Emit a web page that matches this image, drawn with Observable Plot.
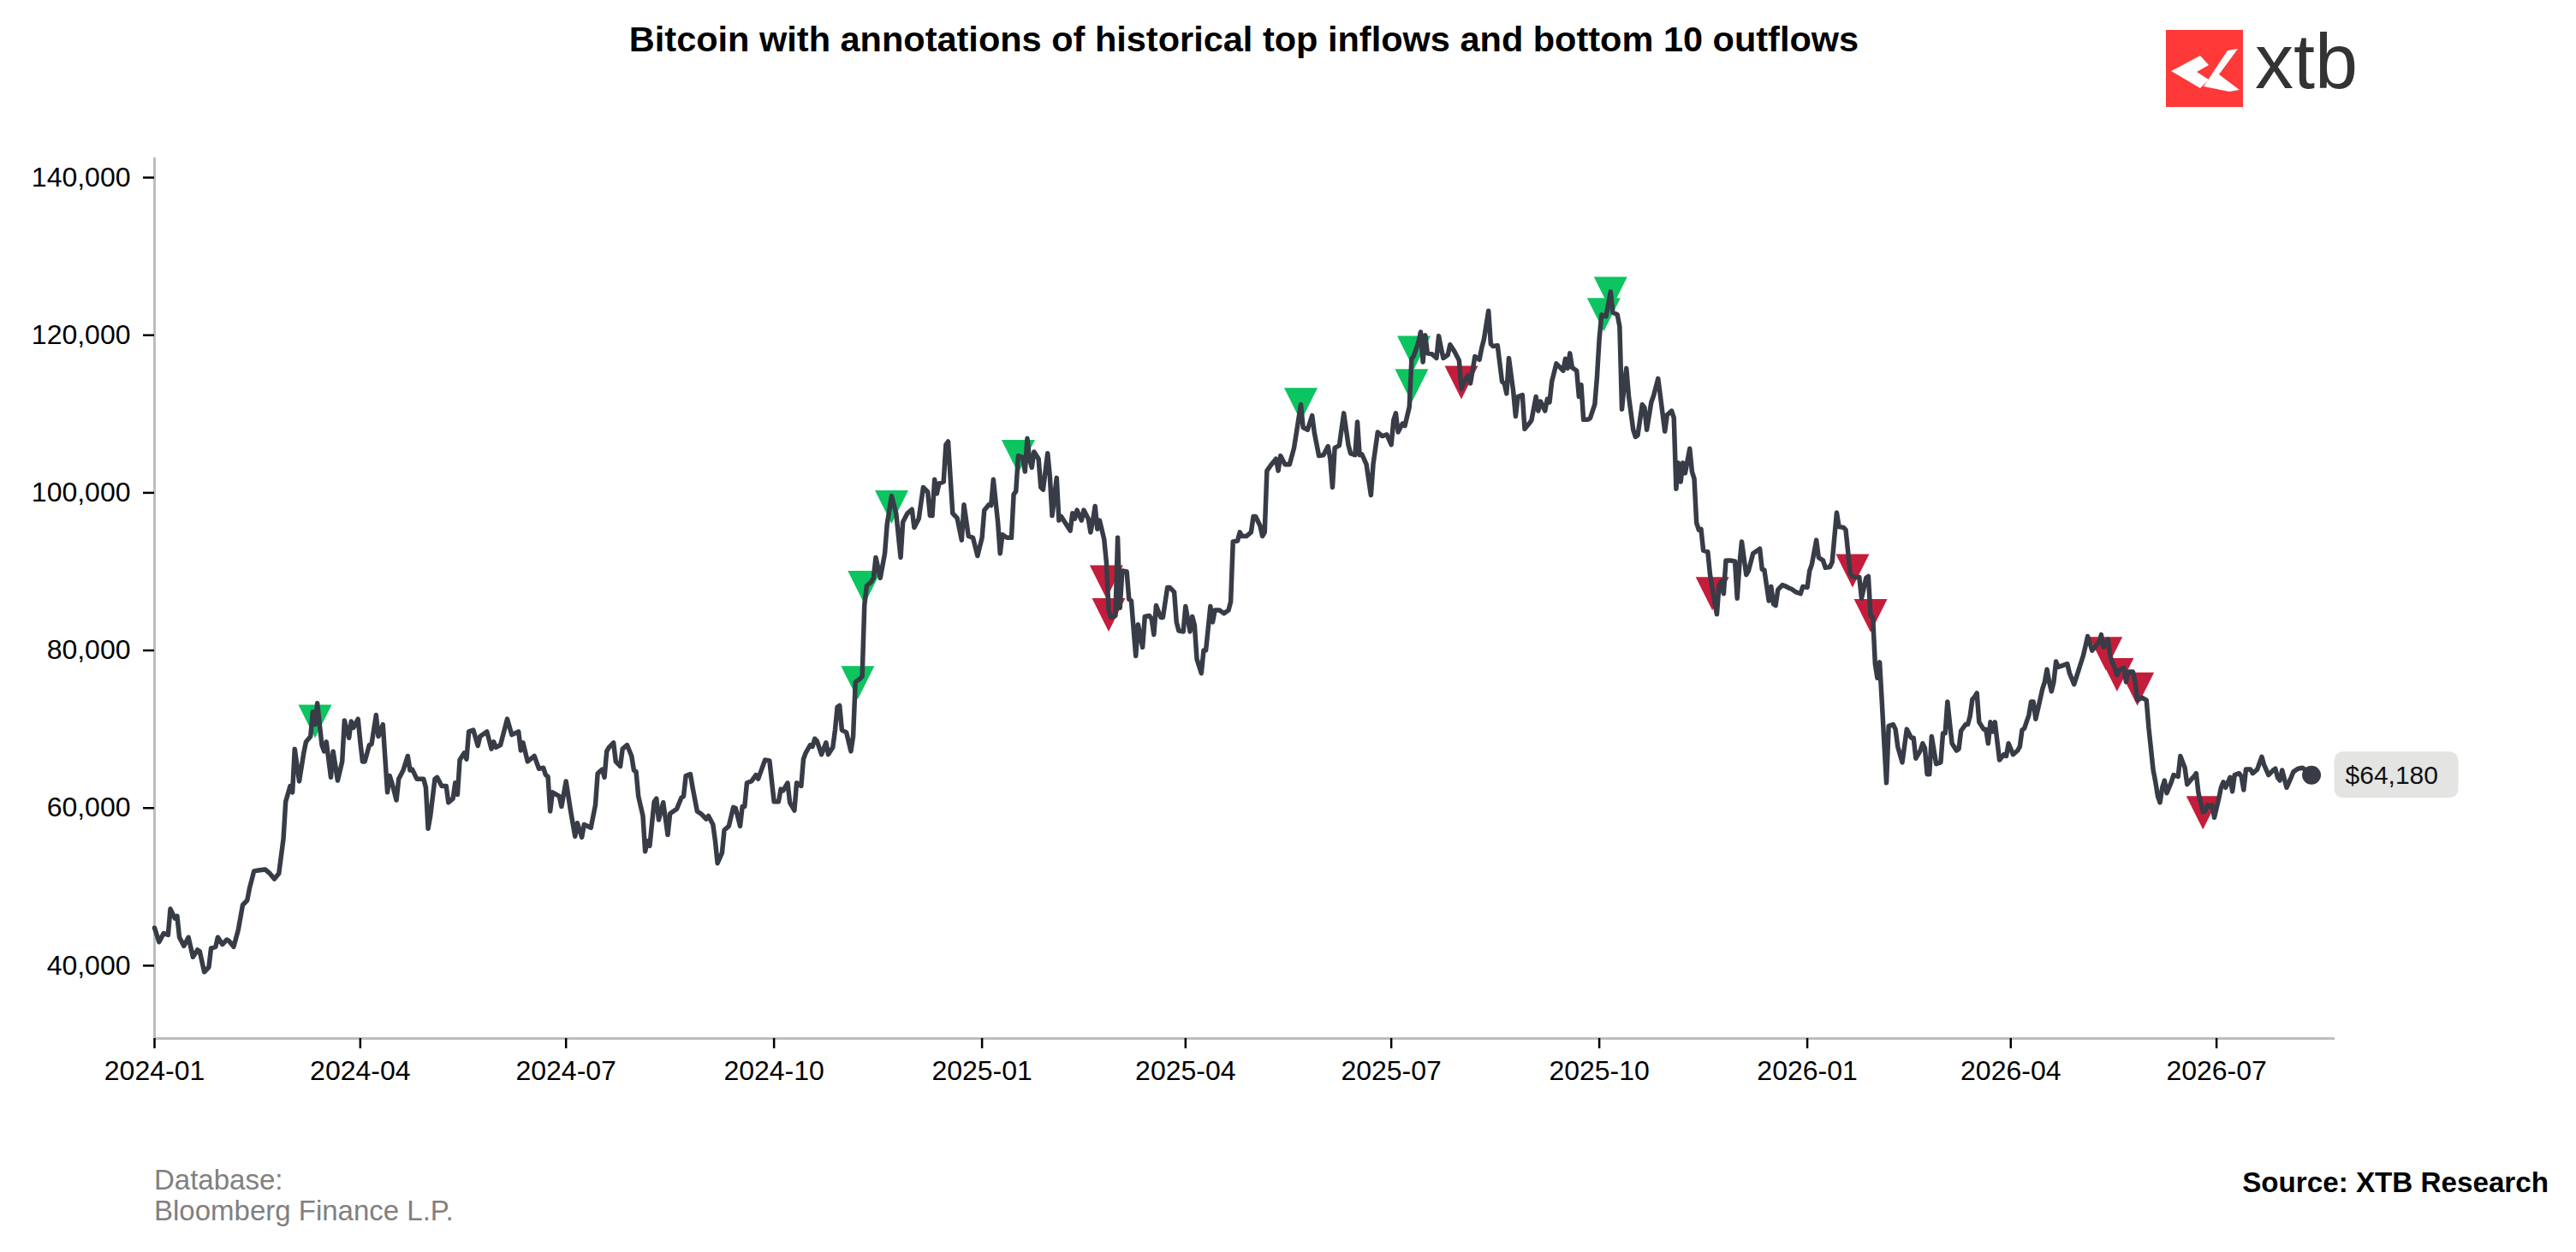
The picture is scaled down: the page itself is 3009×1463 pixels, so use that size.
<!DOCTYPE html>
<html>
<head>
<meta charset="utf-8">
<script src="https://cdn.jsdelivr.net/npm/d3@7"></script>
<script src="https://cdn.jsdelivr.net/npm/@observablehq/plot@0.6"></script>
<style>
  html, body { margin: 0; padding: 0; background: #fff; }
  #page { position: relative; width: 3009px; height: 1463px; overflow: hidden; font-family: "Liberation Sans", Arial, sans-serif; color: #000; }
  #chart { position: absolute; left: 0; top: 0; }
  .abs { position: absolute; white-space: nowrap; }
</style>
</head>
<body>
<div id="page">
  <div id="chart"></div>
  <div class="abs" id="title" style="left:1453px; top:25px; font-size:41.5px; line-height:41.5px; font-weight:bold; transform:translateX(-50%);">Bitcoin with annotations of historical top inflows and bottom 10 outflows</div>
  <svg class="abs" style="left:2530px; top:35px;" width="90" height="90" viewBox="0 0 90 90">
    <rect width="90" height="90" fill="#ff3838"/>
    <path d="M6,48 L40,30 L50,41 L36,49 L50,58 L40,68 Z" fill="#fff"/>
    <path d="M44,66 L72,24 L84,22 L62,52 L86,70 L74,72 Z" fill="#fff"/>
  </svg>
  <div class="abs" style="left:2634px; top:27px; font-size:90px; line-height:90px; color:#333;">xtb</div>
  <div class="abs" style="left:180px; top:1361px; font-size:33px; line-height:36px; color:#808080;">Database:<br>Bloomberg Finance L.P.</div>
  <div class="abs" style="right:32px; top:1365px; font-size:33.2px; line-height:33.2px; font-weight:bold;">Source: XTB Research</div>
</div>
<script>
// ---- Data. Day = days since 2024-01-01, price in USD thousands ----
const daysA = [0,2,4,6,7,9,10,11,13,15,17,19,20,22,24,25,27,28,30,32,33,35,37,39,41,42,44,46,49,51,53,55,57,58,60,61,62,64,66,67,69,70,71,72,74,75,76,78,79,81,83,84,86,87,88,90,91,92,93,95,96,98,99,101,103,104,105,107,108,110,112,113,114,116,119,120,121,122,124,125,127,129,130,132,133,134,135,137,138,139,141,143,144,147,149,150,151,153,156,158,161,162];
const priceA = [44.8,43.0,44.1,43.9,47.2,46.0,46.3,43.6,42.5,43.6,41.1,42.0,41.8,39.2,39.8,42.2,42.4,43.6,42.7,43.3,43.1,42.4,44.5,47.7,48.3,49.8,52.0,52.1,52.2,51.7,51.0,51.7,56.1,60.8,62.8,62.0,67.5,63.4,67.0,68.4,69.1,72.2,70.6,73.3,68.0,67.2,68.4,63.9,67.2,63.5,65.9,71.1,68.9,71.0,70.2,71.3,68.4,65.9,65.9,68.0,68.1,71.8,69.1,70.6,62.0,64.1,63.2,61.0,63.7,64.8,66.6,64.8,64.9,63.7,63.7,62.6,57.4,59.0,63.7,63.9,62.8,62.8,60.7,61.2,63.2,61.7,66.1,67.0,66.2,69.7,69.9,67.9,69.1,69.7,67.5,68.4,67.7,68.0,71.3,69.3,69.7,67.3];

const daysB = [163,165,168,170,172,173,174,175,176,179,180,182,184,186,187,189,190,193,195,196,198,199,200,201,203,204,206,207,209,211,212,213,214,216,217,218,219,221,222,223,225,227,228,231,233,234,235,237,238,240,242,244,245,247,248,249,251,252,254,256,257,259,260,261,262,264,266,267,270,272,273,274,276,277,278,280,281,283,284,286,287,288,290,291,292,293,295,297,298,300,301,302,303,304,306,308,309,310,312,313,314,315,317,318,319];
const priceB = [68.3,65.9,66.6,65.0,65.1,64.2,64.0,59.6,62.0,61.5,60.2,63.4,59.7,56.4,58.1,56.3,57.9,57.5,60.4,64.4,64.9,63.9,67.2,67.7,68.3,65.9,65.3,67.5,68.0,66.6,64.8,64.6,61.5,59.0,54.5,55.8,55.2,60.8,61.2,58.5,60.7,56.6,59.3,59.9,61.3,61.5,64.1,64.3,62.6,59.6,59.2,58.6,59.0,57.9,55.8,53.0,54.3,57.2,57.7,60.1,60.0,57.7,60.2,60.2,63.2,63.4,64.2,63.7,66.1,66.0,63.4,60.8,60.8,62.4,62.2,63.2,60.7,59.7,63.2,62.8,66.2,67.0,68.0,67.8,68.8,68.5,66.8,68.3,66.8,67.7,69.9,72.8,73.0,69.9,69.6,67.2,69.1,76.0,76.4,76.7,85.8,88.2,88.7,89.2,91.8];

const daysC = [321,323,324,326,328,330,331,333,335,336,338,340,342,343,344,345,346,347,349,350,351,353,355,357,358,360,362,364,366,367,369,370,371,373,374,375,377,379,380,381,382,384,385,386,387,388,389,391,392,393,395,396,397,399,400,401,403,405,406,407,408,410,411,413,414,415,416,417,418,420,421,422,423,425,426,427,428,430,431,432,434,435,437,438,440,441,442,443,445,446,448,449,451,452,453,455,456,458,459,460,461,463,464,465,467,468,469,471,473,475,476,477,479,480,481];
const priceC = [89.2,92.3,96.0,99.6,97.4,91.8,96.3,97.4,97.9,95.6,96.7,100.7,100.1,97.1,97.1,101.7,99.9,101.2,101.4,106.1,106.5,97.4,96.8,94.0,98.5,94.5,94.3,92.0,94.3,97.8,98.5,98.4,101.7,96.3,92.3,94.7,94.3,94.3,99.8,100.2,104.7,104.5,102.7,106.9,104.3,103.2,105.2,104.3,100.7,100.4,105.0,102.1,97.1,101.9,96.5,97.0,96.1,95.2,97.4,96.7,97.8,96.5,97.8,96.7,95.0,96.5,98.3,95.4,96.5,94.1,91.2,85.1,84.2,84.4,94.3,85.4,90.1,90.0,86.5,86.3,79.3,83.3,80.4,84.3,84.4,84.0,82.0,85.7,84.2,84.2,88.0,88.0,87.4,83.6,82.5,82.4,85.6,82.4,84.3,83.2,78.9,77.1,80.0,80.0,85.6,83.6,85.1,85.1,84.7,85.1,86.2,93.8,93.9,95.0,94.5];

const daysD = [483,485,486,487,489,490,491,492,494,496,497,498,500,502,504,507,508,510,512,513,515,517,519,520,521,522,524,526,528,529,531,532,533,534,536,538,539,541,543,545,547,548,549,550,552,553,555,556,557,559,560,561,562,563,565,567,568,569,570,572,573,575,577,578,580,581,582,584,586,587,588,590,591,592,594,596,597,598,599,601,602,603,605,606,608,609,611,612,613,615,616,617,618,620,622,623,624,625,626,627,629,630,631,632,634,635,637,638,639,640,642,644,645];
const priceD = [94.5,95.0,97.0,97.0,95.8,94.5,95.0,102.8,103.6,104.3,102.8,104.7,103.6,103.6,105.7,111.2,108.3,108.0,109.8,107.6,104.7,104.8,105.9,104.3,100.7,105.7,106.0,110.1,106.1,105.0,104.8,109.0,104.8,104.9,103.6,99.7,103.6,107.7,107.2,107.4,106.1,109.2,110.1,107.7,108.8,108.5,110.9,117.0,117.4,119.1,120.4,116.6,120.0,117.7,117.6,117.1,119.9,118.4,117.1,117.5,118.8,117.9,116.8,113.2,114.5,114.9,113.9,117.3,116.9,118.4,119.5,123.1,118.9,118.6,118.7,114.1,113.9,112.6,117.1,112.8,109.7,112.2,112.4,108.1,108.8,109.2,112.2,110.4,111.6,110.4,111.9,111.5,114.1,116.4,115.8,115.5,117.0,115.8,117.7,115.9,115.5,112.2,113.7,109.3,109.3,109.5,111.2,114.7,119.5,122.6,122.4,125.5,122.9];

const daysE = [647,648,649,650,651,652,654,655,656,658,659,660,662,663,665,666,668,669,671,672,673,674,675,676,677,679,680,681,682,683,684,685,687,688,690,691,692,693,694,695,697,699,700,701,702,704,705,707,708,710,711,712,714,715,716,717,718,720,721,723,724,726,728,729,731,732,733,735,736,738,739,741,742,744,745,747,748,750,751,752,754,755,757,758,759,760,761,762,763,764,765,766,767,769,770,771,773,775,777,778,779,781,782,783,784,785,786,788,790,791,792,793,794,795,797,798,799,801,802,803,804,805,806];
const priceE = [122.6,121.1,110.6,113.6,115.8,112.3,108.0,107.1,107.3,111.2,110.8,108.0,111.5,112.3,114.5,112.3,107.8,109.9,110.4,109.5,100.5,103.8,101.4,103.8,102.5,105.6,102.7,101.8,96.2,95.3,95.4,92.7,92.5,89.6,86.1,84.6,88.3,88.8,87.2,91.4,91.4,91.3,86.6,90.9,93.8,89.6,90.1,92.3,92.5,92.9,90.3,90.2,86.3,88.1,85.9,85.7,87.7,88.3,88.2,87.9,87.8,87.4,87.2,88.1,88.0,90.1,90.9,94.0,91.8,91.4,90.5,90.6,91.2,97.5,95.7,95.6,95.3,89.8,89.4,89.3,89.3,86.6,89.2,89.4,84.4,84.2,78.3,76.5,78.5,73.5,68.2,63.2,70.4,70.6,70.0,67.8,65.8,70.0,68.9,68.9,66.3,67.3,68.2,67.6,64.3,64.3,69.1,65.6,65.8,69.5,69.5,73.5,70.8,68.2,67.3,67.5,69.8,70.6,70.6,71.7,73.8,74.1,74.6];

const daysF = [807,809,810,811,812,813,814,816,818,819,820,822,824,825,826,827,829,830,831,832,834,835,836,837,838,839,840,841,842,844,846,847,849,851,852,853,854,855,857,859,860,861,862,864,865,866,867,868,869,871,872,873,875,876,877,879,881,882,884,885,886,887,888,889,890,892,893,895,896,898,899,901,902,903,904,906,907,908,909,910,911,913,914,915,916,918,919,920,922,923,924,925,927,928,930,931,932,933,935,937,938,939,940,941,943,945,946,948,950,951,954];
const priceF = [70.9,70.0,70.0,68.2,70.9,69.7,70.9,66.1,66.8,66.6,68.2,66.8,67.3,67.8,69.9,70.1,71.8,73.5,73.5,71.3,73.8,75.1,76.0,77.6,76.0,74.8,76.0,78.6,77.9,78.1,78.3,77.1,75.7,77.5,78.4,79.3,80.5,81.8,80.0,80.7,81.0,82.0,80.4,81.4,79.3,78.4,77.8,76.9,77.5,77.8,76.0,77.3,77.3,76.0,73.7,74.0,73.7,70.2,64.8,63.3,61.5,60.7,62.6,63.5,61.9,63.3,64.2,64.0,66.6,65.1,63.0,63.7,64.0,64.4,61.9,59.5,59.6,60.4,60.2,60.4,58.8,61.2,62.6,63.3,62.6,63.9,62.1,64.2,64.4,64.0,62.3,64.9,64.9,64.4,64.9,65.7,66.5,65.5,64.2,64.8,65.0,63.9,63.5,64.8,62.6,63.9,64.6,65.0,65.1,64.9,64.18];

// Top inflow days (green) and bottom-10 outflow days (red)
const inflowDays = [71, 311, 314, 326, 382, 507, 556, 557, 641, 644];
const inflowPrice = [71.0, 75.9, 88.0, 98.2, 104.6, 111.2, 113.6, 117.8, 122.6, 125.3];
const outflowDays = [421, 422, 578, 689, 751, 759, 863, 868, 877, 906];
const outflowPrice = [88.7, 84.5, 114.0, 87.2, 90.1, 84.4, 79.6, 76.9, 75.1, 59.4];

const xTickLabels = ["2024-01","2024-04","2024-07","2024-10","2025-01","2025-04","2025-07","2025-10","2026-01","2026-04","2026-07"];
const yTicks = [40000, 60000, 80000, 100000, 120000, 140000];
const lastLabel = "$64,180";

// ---- Build tables ----
const start = new Date(Date.UTC(2024, 0, 1));
const toDate = d => d3.utcDay.offset(start, d);
const segs = [[daysA, priceA],[daysB, priceB],[daysC, priceC],[daysD, priceD],[daysE, priceE],[daysF, priceF]];
const series = [];
for (const [ds, ps] of segs) {
  if (ds.length !== ps.length) console.error("length mismatch", ds.length, ps.length);
  ds.forEach((d, i) => series.push({date: toDate(d), price: ps[i] * 1000}));
}
const inflows = inflowDays.map((d, i) => ({date: toDate(d), price: inflowPrice[i] * 1000}));
const outflows = outflowDays.map((d, i) => ({date: toDate(d), price: outflowPrice[i] * 1000}));
const last = series[series.length - 1];
const xTicks = xTickLabels.map(s => d3.utcParse("%Y-%m")(s));

const xDomain = [start, new Date(start.getTime() + 964.4 * 864e5)];
const yDomain = [30760, 142500];

// Downward triangle symbol centred on its bounding box (like a 'v' marker)
const triDown = {
  draw(context, size) {
    const r = Math.sqrt(size / Math.PI);
    context.moveTo(-r, -r);
    context.lineTo(r, -r);
    context.lineTo(0, r);
    context.closePath();
  }
};

function priceLabel(index, scales) {
  const px = scales.x(last.date), py = scales.y(last.price);
  const g = d3.create("svg:g");
  g.append("rect").attr("x", px + 27).attr("y", py - 27).attr("width", 145).attr("height", 54)
    .attr("rx", 10).attr("fill", "#e4e4e2");
  g.append("text").attr("x", px + 40).attr("y", py).attr("dy", "0.35em")
    .attr("font-size", 30).attr("fill", "#111").attr("text-anchor", "start").text(lastLabel);
  return g.node();
}

const chart = Plot.plot({
  width: 3009,
  height: 1300,
  marginLeft: 180,
  marginRight: 282,
  marginTop: 184,
  marginBottom: 87,
  style: {fontFamily: '"Liberation Sans", Arial, sans-serif', fontSize: "32px", background: "transparent", color: "#000", overflow: "visible"},
  x: {type: "utc", domain: xDomain},
  y: {domain: yDomain},
  marks: [
    Plot.ruleX([xDomain[0]], {stroke: "#bdbdbd", strokeWidth: 3}),
    Plot.ruleY([yDomain[0]], {stroke: "#bdbdbd", strokeWidth: 3}),
    Plot.axisY({ticks: yTicks, tickFormat: d3.format(","), tickSize: 13, tickPadding: 15, stroke: "#000", strokeWidth: 2.5, fontSize: 32, label: null}),
    Plot.axisX({ticks: xTicks, tickFormat: d3.utcFormat("%Y-%m"), tickSize: 12, tickPadding: 14, stroke: "#000", strokeWidth: 2.5, fontSize: 32, label: null}),
    Plot.dot(inflows, {x: "date", y: "price", symbol: triDown, r: 19.5, fill: "#0cc460", stroke: "none"}),
    Plot.dot(outflows, {x: "date", y: "price", symbol: triDown, r: 19.5, fill: "#c41d3b", stroke: "none"}),
    Plot.lineY(series, {x: "date", y: "price", stroke: "#383c47", strokeWidth: 5.5, strokeLinejoin: "round"}),
    Plot.dot([last], {x: "date", y: "price", r: 11, fill: "#383c47"}),
    priceLabel
  ]
});
document.getElementById("chart").appendChild(chart);
</script>
</body>
</html>
